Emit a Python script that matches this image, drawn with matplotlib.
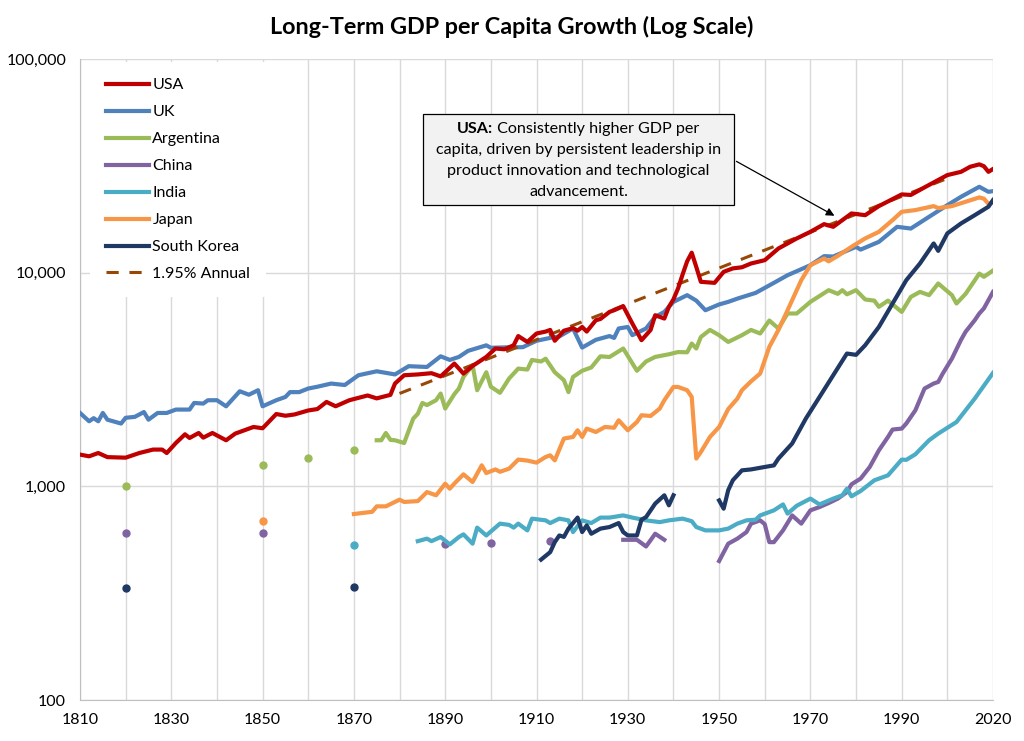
import matplotlib.pyplot as plt
from matplotlib.patches import Rectangle

plt.rcParams['font.family'] = ['Lato', 'DejaVu Sans']

# ---- data (GDP per capita) ----
usa_years = [1810, 1812, 1814, 1816, 1820, 1823, 1826, 1828, 1829, 1831, 1833, 1834, 1836, 1837,
             1839, 1842, 1844, 1848, 1850, 1853, 1855, 1857, 1860, 1862, 1864, 1866, 1869, 1873,
             1875, 1878, 1879, 1881, 1884, 1887, 1889, 1890, 1892, 1894, 1896, 1899, 1901, 1903,
             1905, 1906, 1908, 1910, 1912, 1913, 1914, 1916, 1918, 1919, 1920, 1921, 1923, 1924,
             1926, 1927, 1929, 1931, 1933, 1935, 1936, 1938, 1939, 1940, 1941, 1942, 1943, 1944,
             1945, 1946, 1949, 1951, 1953, 1955, 1957, 1960, 1963, 1967, 1970, 1973, 1975, 1979,
             1982, 1985, 1990, 1992, 1995, 2000, 2003, 2005, 2007, 2008, 2009, 2010]
usa_gdp = [1408, 1382, 1432, 1370, 1362, 1432, 1486, 1486, 1432, 1595, 1752, 1684, 1777, 1690,
           1777, 1643, 1765, 1896, 1870, 2180, 2140, 2170, 2265, 2300, 2483, 2370, 2529, 2662,
           2580, 2680, 3027, 3311, 3340, 3385, 3270, 3420, 3755, 3370, 3660, 4033, 4415, 4380,
           4575, 5050, 4740, 5190, 5300, 5395, 4800, 5350, 5500, 5350, 5570, 5300, 5990, 6070,
           6553, 6670, 6966, 5780, 4830, 5395, 6320, 6100, 6920, 7500, 8430, 9800, 11300, 12400,
           10640, 9060, 8960, 10090, 10470, 10600, 11040, 11440, 12980, 14460, 15530, 16870, 16390, 18930,
           18580, 20490, 23240, 23110, 25070, 28620, 29650, 31310, 32130, 31500, 29650, 30560]

uk_years = [1810, 1812, 1813, 1814, 1815, 1816, 1819, 1820, 1822, 1824, 1825, 1827, 1829, 1831,
            1834, 1835, 1837, 1838, 1840, 1842, 1845, 1847, 1849, 1850, 1853, 1855, 1856, 1858,
            1860, 1862, 1865, 1868, 1871, 1875, 1879, 1882, 1886, 1889, 1891, 1893, 1895, 1899,
            1900, 1903, 1907, 1910, 1913, 1915, 1918, 1920, 1923, 1926, 1927, 1928, 1930, 1931,
            1934, 1936, 1938, 1940, 1943, 1945, 1947, 1950, 1952, 1954, 1958, 1962, 1965, 1970,
            1973, 1975, 1980, 1981, 1985, 1989, 1992, 1996, 2000, 2003, 2007, 2009, 2010]
uk_gdp = [2205, 2016, 2085, 2016, 2205, 2051, 1967, 2093, 2114, 2227, 2051, 2205, 2205, 2287,
          2287, 2456, 2440, 2528, 2530, 2369, 2786, 2684, 2817, 2369, 2530, 2620, 2760, 2760,
          2869, 2925, 3027, 2980, 3311, 3455, 3340, 3650, 3620, 4060, 3905, 4033, 4305, 4570,
          4450, 4470, 4480, 4800, 4950, 5030, 5480, 4460, 4850, 5050, 4950, 5480, 5570, 5100,
          5480, 6210, 6550, 7300, 7847, 7400, 6670, 7100, 7300, 7560, 8040, 8960, 9730, 10840,
          11950, 11900, 13210, 12820, 13940, 16390, 16090, 18260, 20700, 22650, 25230, 23900, 24080]

arg_dot_years = [1820, 1850, 1860, 1870]
arg_dot_gdp = [1000, 1259, 1363, 1474]
arg_years = [1875, 1876, 1877, 1878, 1879, 1881, 1883, 1884, 1885, 1886, 1888, 1889, 1890, 1892,
             1893, 1894, 1896, 1897, 1899, 1900, 1902, 1904, 1906, 1908, 1909, 1911, 1912, 1914,
             1916, 1917, 1918, 1920, 1922, 1924, 1926, 1929, 1932, 1934, 1936, 1939, 1941, 1943,
             1944, 1945, 1946, 1948, 1950, 1952, 1955, 1957, 1959, 1961, 1963, 1965, 1967, 1970,
             1974, 1976, 1977, 1978, 1980, 1982, 1984, 1985, 1987, 1990, 1992, 1994, 1996, 1998,
             2001, 2002, 2004, 2007, 2008, 2010]
arg_gdp = [1643, 1643, 1777, 1650, 1643, 1595, 2075, 2185, 2456, 2400, 2530, 2718, 2312, 2700,
           2869, 3250, 3688, 2817, 3420, 2925, 2740, 3196, 3557, 3520, 3905, 3840, 3957, 3420,
           3140, 2760, 3250, 3475, 3600, 4060, 4030, 4415, 3475, 3840, 4033, 4150, 4250, 4240,
           4660, 4415, 5000, 5395, 5097, 4740, 5097, 5395, 5190, 5970, 5480, 6440, 6440, 7300,
           8280, 7960, 8280, 7920, 8280, 7490, 7400, 6920, 7400, 6550, 7700, 8130, 7850, 8900,
           7850, 7170, 7960, 9900, 9560, 10230]

china_dot_years = [1820, 1850, 1890, 1900, 1913]
china_dot_gdp = [602, 602, 539, 545, 554]
china_years_a = [1929, 1932, 1934, 1935, 1936, 1938]
china_gdp_a = [562, 562, 523, 560, 600, 562]
china_years_b = [1950, 1952, 1954, 1956, 1957, 1959, 1960, 1961, 1962, 1964, 1966, 1968, 1970,
                 1972, 1974, 1976, 1978, 1979, 1981, 1983, 1985, 1987, 1988, 1990, 1991, 1993,
                 1995, 1997, 1998, 1999, 2001, 2003, 2004, 2006, 2007, 2008, 2010]
china_gdp_b = [447, 539, 569, 611, 669, 693, 665, 548, 548, 622, 731, 669, 772,
               800, 835, 876, 940, 1022, 1087, 1232, 1474, 1703, 1844, 1863, 1967, 2270,
               2869, 3027, 3080, 3373, 3960, 4850, 5290, 5990, 6440, 6800, 8130]

india_dot_years = [1870]
india_dot_gdp = [533]
india_years = [1884, 1886, 1887, 1889, 1891, 1893, 1894, 1896, 1897, 1899, 1902, 1904, 1905, 1906,
               1908, 1909, 1912, 1913, 1915, 1917, 1918, 1920, 1922, 1924, 1926, 1929, 1931, 1934,
               1937, 1939, 1942, 1944, 1945, 1947, 1950, 1952, 1954, 1956, 1958, 1959, 1962, 1964,
               1965, 1967, 1970, 1972, 1975, 1977, 1978, 1979, 1981, 1984, 1987, 1990, 1991, 1993,
               1996, 1998, 2002, 2006, 2010]
india_gdp = [554, 569, 554, 579, 535, 579, 596, 539, 641, 589, 669, 660, 641, 669,
             622, 706, 693, 673, 706, 693, 611, 693, 673, 714, 714, 731, 714, 693,
             680, 693, 706, 687, 645, 622, 622, 634, 669, 693, 698, 731, 772, 823,
             745, 811, 876, 823, 876, 908, 975, 898, 951, 1067, 1126, 1334, 1330, 1413,
             1643, 1765, 2000, 2574, 3395]

japan_dot_years = [1850]
japan_dot_gdp = [685]
japan_years = [1870, 1874, 1875, 1877, 1880, 1881, 1884, 1886, 1888, 1890, 1891, 1892, 1894, 1896,
               1898, 1899, 1901, 1902, 1904, 1906, 1908, 1910, 1912, 1913, 1914, 1916, 1918, 1919,
               1920, 1921, 1923, 1925, 1927, 1928, 1930, 1932, 1933, 1935, 1937, 1938, 1940, 1941,
               1943, 1944, 1945, 1946, 1948, 1950, 1952, 1954, 1955, 1957, 1959, 1961, 1963, 1965,
               1968, 1970, 1973, 1974, 1976, 1979, 1982, 1985, 1988, 1990, 1993, 1997, 1998, 2001,
               2004, 2007, 2008, 2009, 2010]
japan_gdp = [742, 760, 806, 806, 866, 845, 853, 940, 908, 1029, 975, 1030, 1138, 1048,
             1254, 1154, 1200, 1170, 1210, 1334, 1320, 1291, 1372, 1397, 1323, 1673, 1703, 1830,
             1703, 1863, 1796, 1896, 1880, 2038, 1830, 2001, 2151, 2135, 2312, 2530, 2918, 2918,
             2817, 2620, 1349, 1447, 1703, 1896, 2300, 2574, 2817, 3100, 3373, 4495, 5395, 6670,
             9220, 10840, 11650, 11300, 11980, 13210, 14460, 15530, 17620, 19270, 19630, 20490, 20060, 20490,
             21470, 22500, 22200, 21000, 21300]

korea_dot_years = [1820, 1870]
korea_dot_gdp = [336, 338]
korea_years_a = [1911, 1913, 1914, 1915, 1916, 1917, 1919, 1920, 1921, 1922, 1924, 1926, 1928, 1929,
                 1930, 1932, 1933, 1934, 1936, 1938, 1939, 1940]
korea_gdp_a = [454, 492, 548, 589, 580, 634, 714, 611, 656, 600, 634, 645, 673, 611,
               589, 589, 698, 718, 830, 908, 815, 908]
korea_years_b = [1950, 1951, 1952, 1953, 1955, 1957, 1960, 1962, 1963, 1966, 1969, 1972, 1975,
                 1978, 1980, 1982, 1985, 1988, 1991, 1994, 1997, 1998, 2000, 2003, 2006, 2009, 2010]
korea_gdp_b = [859, 786, 960, 1067, 1188, 1200, 1232, 1253, 1349, 1586, 2075, 2620, 3311,
               4183, 4125, 4575, 5572, 7170, 9220, 11040, 13700, 12650, 15270, 17000, 18580, 20350, 21860]

trend_years = [1880, 2000]
trend_gdp = [2720, 27600]

x_ticks = [1810, 1830, 1850, 1870, 1890, 1910, 1930, 1950, 1970, 1990, 2010]
x_tick_labels = ['1810', '1830', '1850', '1870', '1890', '1910', '1930', '1950', '1970', '1990', '2020']
y_ticks = [100, 1000, 10000, 100000]
y_tick_labels = ['100', '1,000', '10,000', '100,000']

c_usa = '#C00000'
c_uk = '#4F81BD'
c_arg = '#9BBB59'
c_china = '#8064A2'
c_india = '#4BACC6'
c_japan = '#F79646'
c_korea = '#1F3864'
c_trend = '#974806'

fig = plt.figure(figsize=(10.24, 7.41), dpi=100)
ax = fig.add_axes([80 / 1024, 1 - 700 / 741, 913 / 1024, 641 / 741])

lw = 3.0
ms = 5
ax.plot(usa_years, usa_gdp, color=c_usa, lw=lw, label='USA', zorder=9)
ax.plot(uk_years, uk_gdp, color=c_uk, lw=lw, label='UK', zorder=5)
ax.plot(arg_years, arg_gdp, color=c_arg, lw=lw, label='Argentina', zorder=4)
ax.plot(arg_dot_years, arg_dot_gdp, 'o', color=c_arg, ms=ms, zorder=4)
ax.plot(china_years_a, china_gdp_a, color=c_china, lw=lw, label='China', zorder=4)
ax.plot(china_years_b, china_gdp_b, color=c_china, lw=lw, zorder=4)
ax.plot(china_dot_years, china_dot_gdp, 'o', color=c_china, ms=ms, zorder=4)
ax.plot(india_years, india_gdp, color=c_india, lw=lw, label='India', zorder=5)
ax.plot(india_dot_years, india_dot_gdp, 'o', color=c_india, ms=ms, zorder=5)
ax.plot(japan_years, japan_gdp, color=c_japan, lw=lw, label='Japan', zorder=6)
ax.plot(japan_dot_years, japan_dot_gdp, 'o', color=c_japan, ms=ms, zorder=6)
ax.plot(korea_years_a, korea_gdp_a, color=c_korea, lw=lw, label='South Korea', zorder=7)
ax.plot(korea_years_b, korea_gdp_b, color=c_korea, lw=lw, zorder=7)
ax.plot(korea_dot_years, korea_dot_gdp, 'o', color=c_korea, ms=ms, zorder=7)
# trend sits just under the USA line
ax.plot(trend_years, trend_gdp, color=c_trend, lw=2.2, ls=(0, (4, 3.5)),
        label='1.95% Annual', zorder=8.5)

ax.set_yscale('log')
ax.set_xlim(1810, 2010)
ax.set_ylim(100, 100000)
ax.set_xticks(x_ticks)
ax.set_xticklabels(x_tick_labels)
ax.set_xticks(range(1810, 2011, 10), minor=True)
ax.set_yticks(y_ticks)
ax.set_yticklabels(y_tick_labels)
ax.yaxis.set_minor_locator(plt.NullLocator())
ax.tick_params(axis='both', which='both', length=0, labelsize=11.5, colors='#000000')
ax.tick_params(axis='x', pad=9)
ax.tick_params(axis='y', pad=10)
ax.grid(True, which='both', axis='x', color='#D9D9D9', lw=1)
ax.grid(True, which='major', axis='y', color='#D9D9D9', lw=1)
ax.set_axisbelow(True)
for s in ['top', 'right']:
    ax.spines[s].set_visible(False)
for s in ['left', 'bottom']:
    ax.spines[s].set_color('#BFBFBF')

leg = ax.legend(loc='upper left', bbox_to_anchor=(0.011, 0.995), frameon=True, fontsize=11.5,
                handlelength=2.7, handletextpad=0.2, labelspacing=0.8, borderpad=1.0,
                borderaxespad=0.0)
leg.get_frame().set_facecolor('white')
leg.get_frame().set_edgecolor('none')
leg.get_frame().set_alpha(1.0)
leg.set_zorder(20)

fig.text(0.5, 1 - 27 / 741, 'Long-Term GDP per Capita Growth (Log Scale)',
         ha='center', va='center', fontsize=16.8, fontweight='bold')

# annotation box
bx0, bx1, by0, by1 = 423, 734, 114, 205
fig.add_artist(Rectangle((bx0 / 1024, 1 - by1 / 741), (bx1 - bx0) / 1024, (by1 - by0) / 741,
                         transform=fig.transFigure, facecolor='#F2F2F2', edgecolor='#000000',
                         lw=0.9, zorder=30))
cx = (bx0 + bx1) / 2
line_y = [129, 150, 171, 192]
fsz = 11.6
t1 = fig.text(0, 1 - line_y[0] / 741, 'USA:', fontweight='bold', fontsize=fsz, va='center', zorder=31)
t2 = fig.text(0, 1 - line_y[0] / 741, ' Consistently higher GDP per', fontsize=fsz, va='center', zorder=31)
rend = fig.canvas.get_renderer()
w1 = t1.get_window_extent(rend).width
w2 = t2.get_window_extent(rend).width
left = cx - (w1 + w2) / 2
t1.set_x(left / 1024)
t2.set_x((left + w1) / 1024)
for txt, yy in zip(['capita, driven by persistent leadership in',
                    'product innovation and technological',
                    'advancement.'], line_y[1:]):
    fig.text(cx / 1024, 1 - yy / 741, txt, ha='center', va='center', fontsize=fsz, zorder=31)

ax.annotate('', xy=(1975.8, 18200), xycoords='data',
            xytext=(bx1 / 1024, 1 - 160 / 741), textcoords='figure fraction',
            arrowprops=dict(arrowstyle='-|>', color='black', lw=0.9, mutation_scale=12),
            zorder=25, annotation_clip=False)

fig.savefig('out.png', dpi=100)
